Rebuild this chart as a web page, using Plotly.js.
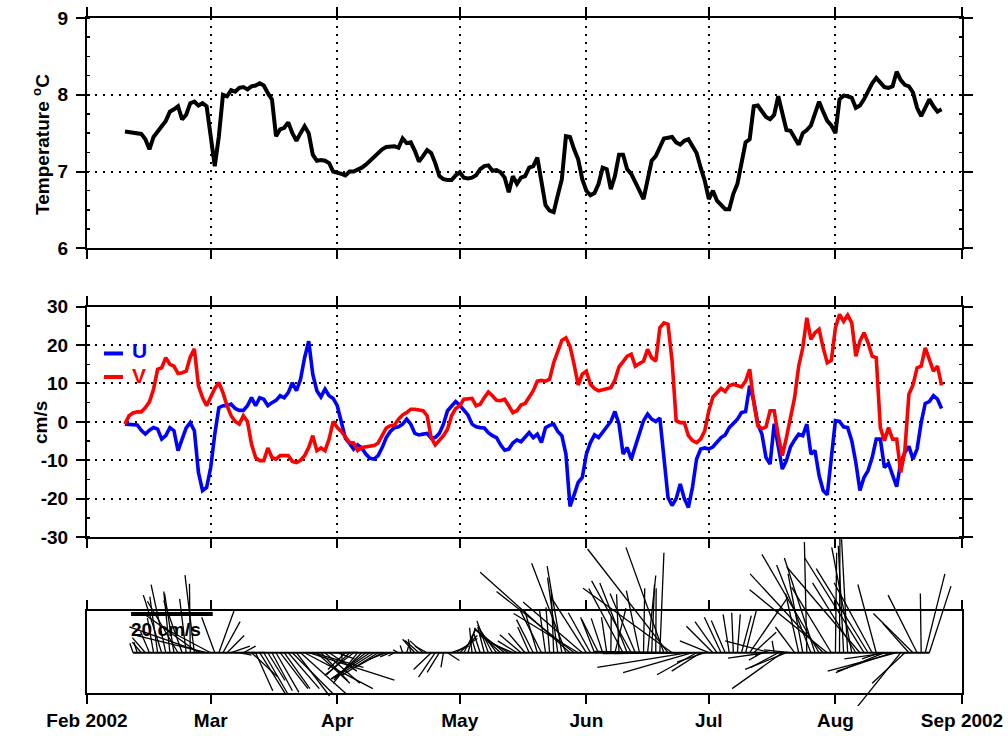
<!DOCTYPE html>
<html>
<head>
<meta charset="utf-8">
<script src="https://cdn.plot.ly/plotly-3.0.1.min.js"></script>
<style>html,body{margin:0;padding:0;background:#fff;}#chart{width:1008px;height:736px;}</style>
</head>
<body>
<div id="chart"></div>
<script>
// ---- data (daily samples, first sample 2002-02-08) ----
const firstDate = '2002-02-08';
const monthTicks = ['2002-01-29 16:55','2002-03-01','2002-04-01','2002-05-01','2002-06-01','2002-07-01','2002-08-01','2002-09-01'];
const monthLabels = ['Feb 2002','Mar','Apr','May','Jun','Jul','Aug','Sep 2002'];
const tempTicks = [6, 7, 8, 9];
const velTicks = [-30, -20, -10, 0, 10, 20, 30];

const temperature = [
7.52,7.51,7.50,7.50,7.49,7.42,7.29,7.45,7.53,7.59,
7.66,7.78,7.81,7.85,7.68,7.74,7.89,7.91,7.86,7.89,
7.85,7.42,7.07,7.46,8.00,7.98,8.06,8.04,8.09,8.10,
8.07,8.11,8.12,8.15,8.12,8.02,7.94,7.46,7.55,7.57,
7.64,7.50,7.40,7.50,7.59,7.50,7.22,7.14,7.15,7.14,
7.11,7.00,6.99,6.97,6.95,7.00,7.00,7.02,7.05,7.09,
7.14,7.18,7.24,7.29,7.32,7.33,7.33,7.31,7.43,7.37,
7.38,7.27,7.13,7.20,7.28,7.24,7.11,6.94,6.90,6.89,
6.89,6.95,6.99,6.92,6.91,6.92,6.95,7.03,7.07,7.08,
7.01,7.02,6.99,6.92,6.73,6.94,6.84,6.92,6.94,7.05,
7.07,7.18,6.90,6.56,6.49,6.47,6.69,6.90,7.46,7.45,
7.29,7.16,6.90,6.75,6.69,6.72,6.84,7.05,7.03,6.77,
6.94,7.22,7.22,7.03,6.97,6.87,6.75,6.64,6.90,7.14,
7.20,7.33,7.43,7.44,7.45,7.38,7.35,7.40,7.42,7.33,
7.24,7.05,6.88,6.64,6.75,6.62,6.56,6.51,6.51,6.71,
6.84,7.12,7.38,7.42,7.85,7.86,7.78,7.71,7.68,7.74,
7.98,7.74,7.54,7.53,7.44,7.35,7.50,7.54,7.60,7.76,
7.91,7.78,7.66,7.60,7.50,7.94,7.99,7.98,7.96,7.83,
7.86,7.94,8.06,8.15,8.22,8.16,8.10,8.09,8.11,8.30,
8.19,8.13,8.11,8.03,7.83,7.72,7.84,7.94,7.85,7.78,7.81];

const uVel = [
-0.6,-0.7,-0.8,-0.8,-2.2,-3.2,-2.2,-1.5,-1.9,-4.5,
-3.6,-1.5,-2.3,-7.5,-4.5,-1.6,-0.2,-2.3,-13.2,-17.9,
-17.1,-11.9,-3.2,3.7,4.2,4.2,4.6,3.5,3.0,3.0,
4.2,6.3,4.2,6.3,5.9,4.2,5.0,5.6,6.8,6.3,
7.6,10.2,8.1,11.1,16.7,21.0,12.4,8.1,6.5,8.5,
6.8,6.1,4.2,0.3,-4.3,-5.6,-7.1,-6.0,-6.8,-8.4,
-9.5,-9.7,-8.8,-6.7,-4.1,-2.5,-1.5,-1.3,-0.6,0.7,
-0.6,-3.0,-3.4,-3.2,-3.0,-4.3,-4.1,-3.0,-0.6,2.9,
4.2,5.3,4.3,3.0,1.8,-0.6,-1.3,-1.5,-1.6,-2.8,
-3.6,-4.1,-6.0,-7.4,-7.1,-5.5,-4.7,-5.2,-4.1,-2.8,
-4.1,-3.2,-5.4,-1.5,-0.9,-0.6,-2.5,-3.6,-8.4,-22.0,
-19.0,-15.8,-14.5,-8.4,-5.4,-3.4,-4.1,-2.8,-1.3,0.1,
2.7,-0.6,-8.4,-6.7,-9.7,-6.2,-3.2,0.3,2.0,0.7,
0.1,1.0,-9.3,-19.7,-21.8,-20.0,-16.2,-20.0,-22.3,-17.0,
-9.7,-7.1,-6.8,-7.1,-6.5,-5.4,-4.1,-3.4,-1.5,-0.4,
0.7,2.4,2.7,9.4,5.5,-0.6,-3.2,-9.3,-11.0,-0.5,
-6.7,-12.3,-10.1,-6.5,-4.7,-3.2,-3.6,-0.6,-8.4,-7.5,
-14.0,-17.9,-19.0,-9.7,0.3,0.1,-1.3,-1.5,-4.9,-10.6,
-17.9,-14.5,-12.7,-9.3,-4.5,-4.5,-11.9,-10.8,-13.6,-16.9,
-10.6,-8.0,-6.4,-9.7,-7.1,-0.2,4.8,5.3,6.8,5.9,3.5];

const vVel = [
-0.6,1.6,2.3,2.6,2.6,3.7,5.2,8.5,13.7,14.1,
16.7,15.0,14.5,12.6,12.8,13.2,16.9,19.0,9.4,6.3,
4.2,6.3,8.7,10.2,7.6,4.2,1.6,0.1,-0.6,1.6,
0.1,-5.8,-9.3,-10.1,-10.1,-6.8,-9.3,-9.7,-8.8,-8.8,
-8.8,-10.3,-10.6,-10.0,-8.8,-6.7,-3.6,-7.5,-6.8,-7.5,
-4.5,0.1,-1.5,-2.5,-4.1,-5.4,-5.5,-7.5,-6.7,-6.5,
-6.4,-6.2,-5.5,-3.6,-1.6,-1.0,-0.8,0.7,1.8,2.4,
3.3,3.3,3.0,2.9,1.6,-4.1,-6.0,-4.8,-3.6,-1.9,
1.6,3.5,4.2,5.9,6.1,6.1,4.2,4.6,6.3,7.8,
6.8,5.6,5.5,5.9,4.2,2.4,2.9,4.4,4.8,6.3,
8.1,10.6,10.8,10.6,11.1,15.4,18.4,21.2,21.9,19.7,
15.0,9.6,12.4,13.2,9.8,8.7,8.1,8.4,8.7,8.9,
10.9,14.3,15.7,17.1,17.6,14.5,15.2,15.8,18.9,16.7,
15.8,24.5,25.8,25.4,15.8,0.3,-0.2,-0.2,-3.6,-4.9,
-5.4,-4.5,-2.3,2.9,6.5,7.6,8.7,7.9,9.4,9.8,
9.4,9.1,10.6,13.7,5.0,-1.0,-1.8,-1.3,2.9,2.9,
-3.6,-8.8,-4.1,0.7,6.3,14.5,19.3,27.1,21.5,23.2,
24.1,19.3,15.4,16.0,24.5,28.0,26.2,27.8,25.8,17.1,
21.0,23.2,20.6,17.1,16.7,-1.5,-4.9,-1.5,-4.5,-4.5,
-13.2,-7.5,7.2,9.6,14.1,14.5,19.3,16.3,13.2,14.5,9.5];

// stick plot settings
const stickFirst = '2002-02-10';
const stickLast  = '2002-08-24';
const scaleBarValue = 20;          // cm/s
const scaleBarStart = '2002-02-09 12:00';
const scaleBarLevel = 9.48;        // vertical position of the scale bar (cm/s units)

// ---- build ----
const DAY = 86400000;
const t0 = Date.parse(firstDate + 'T00:00:00Z');
const times = temperature.map((_, i) => t0 + i * DAY);
const sFirst = Date.parse(stickFirst + 'T00:00:00Z');
const sLast = Date.parse(stickLast + 'T00:00:00Z');

const sx = [], sy = [];
times.forEach((t, i) => {
  if (t < sFirst || t > sLast) return;
  sx.push(t, t + uVel[i] * DAY, null);   // 1 cm/s == 1 day horizontally
  sy.push(0, vVel[i], null);
});
const sbStart = Date.parse(scaleBarStart.replace(' ', 'T') + ':00Z');

const FAM = 'Liberation Sans, Arial, Helvetica, sans-serif';
const FONT = {family: FAM, size: 19, color: '#000', weight: 700};
const rangeX = [monthTicks[0], '2002-09-01'];
const gridDash = '2px,6px';
const bold = a => a.map(s => '<b>' + s + '</b>');

function xAxis(anchor, labels) {
  return {
    anchor: anchor, domain: [0, 1], type: 'date', range: rangeX,
    tickmode: 'array', tickvals: monthTicks, ticktext: bold(monthLabels),
    showticklabels: labels, tickfont: FONT,
    ticks: 'outside', ticklen: 9, tickwidth: 2, tickcolor: '#000',
    showline: true, linewidth: 2, linecolor: '#000', mirror: 'allticks',
    showgrid: !labels, gridcolor: '#000', gridwidth: 2, griddash: gridDash,
    zeroline: false, fixedrange: true
  };
}
function yAxis(anchor, domain, range, tickvals, minorDt) {
  return {
    anchor: anchor, domain: domain, range: range,
    tickmode: 'array', tickvals: tickvals, ticktext: bold(tickvals.map(String)), tickfont: FONT,
    ticks: 'outside', ticklen: 9, tickwidth: 2, tickcolor: '#000', ticklabelstandoff: 4,
    showline: true, linewidth: 2, linecolor: '#000', mirror: 'allticks',
    showgrid: true, gridcolor: '#000', gridwidth: 2, griddash: gridDash,
    zeroline: false, fixedrange: true,
    minor: {dtick: minorDt, tick0: 0, ticks: 'inside', ticklen: 3, tickwidth: 1.5, tickcolor: '#000', showgrid: false}
  };
}

const traces = [
  {x: times, y: temperature, xaxis: 'x', yaxis: 'y', mode: 'lines', line: {color: '#000', width: 4}, name: 'Temperature'},
  {x: times, y: uVel, xaxis: 'x2', yaxis: 'y2', mode: 'lines', line: {color: '#0000ff', width: 3.6}, name: 'U'},
  {x: times, y: vVel, xaxis: 'x2', yaxis: 'y2', mode: 'lines', line: {color: '#ff0000', width: 3.6}, name: 'V'},
  {x: [sFirst, sLast], y: [0, 0], xaxis: 'x3', yaxis: 'y3', mode: 'lines', line: {color: '#000', width: 2}, name: 'baseline'},
  {x: [sbStart, sbStart + scaleBarValue * DAY], y: [scaleBarLevel, scaleBarLevel], xaxis: 'x3', yaxis: 'y3', mode: 'lines', line: {color: '#000', width: 4}, name: 'scale'},
  {x: sx, y: sy, xaxis: 'x4', yaxis: 'y4', mode: 'lines', line: {color: '#000', width: 1.3}, connectgaps: false, name: 'sticks'}
];

const layout = {
  width: 1008, height: 736,
  margin: {l: 87, r: 46, t: 18, b: 30},
  paper_bgcolor: '#fff', plot_bgcolor: 'rgba(0,0,0,0)',
  showlegend: false,
  font: FONT,
  xaxis: xAxis('y', false),
  yaxis: yAxis('x', [0.6653, 1], [6, 9], tempTicks, 0.25),
  xaxis2: xAxis('y2', false),
  yaxis2: yAxis('x2', [0.24564, 0.58038], [-30, 30], velTicks, 5),
  xaxis3: xAxis('y3', true),
  yaxis3: {anchor: 'x3', domain: [0.018895, 0.138081], range: [-9.87, 10.21], showline: true, linewidth: 2, linecolor: '#000', mirror: true,
           ticks: '', showticklabels: false, showgrid: false, zeroline: false, fixedrange: true},
  xaxis4: {anchor: 'y4', domain: [0, 1], type: 'date', range: rangeX, visible: false, fixedrange: true},
  yaxis4: {anchor: 'x4', domain: [0, 0.24855], range: [-13.05, 28.83], visible: false, fixedrange: true},
  annotations: [
    {text: '<b>Temperature <sup>o</sup>C</b>', xref: 'paper', yref: 'paper', x: -0.0526, y: 0.8169, textangle: -90, showarrow: false, font: FONT, xanchor: 'center', yanchor: 'middle'},
    {text: '<b>cm/s</b>', xref: 'paper', yref: 'paper', x: -0.0526, y: 0.4128, textangle: -90, showarrow: false, font: FONT, xanchor: 'center', yanchor: 'middle'},
    {text: '<b>U</b>', xref: 'paper', yref: 'paper', x: 0.0491, y: 0.5174, showarrow: false, xanchor: 'left', yanchor: 'middle', font: {family: FAM, size: 21, weight: 700, color: '#0000ff'}},
    {text: '<b>V</b>', xref: 'paper', yref: 'paper', x: 0.0491, y: 0.4797, showarrow: false, xanchor: 'left', yanchor: 'middle', font: {family: FAM, size: 21, weight: 700, color: '#ff0000'}},
    {text: '<b>20 cm/s</b>', xref: 'paper', yref: 'paper', x: 0.048, y: 0.1105, showarrow: false, xanchor: 'left', yanchor: 'middle', font: {family: FAM, size: 19, weight: 700, color: '#000'}}
  ],
  shapes: [
    {type: 'line', xref: 'paper', yref: 'paper', x0: 0.0194, x1: 0.0411, y0: 0.5124, y1: 0.5124, line: {color: '#0000ff', width: 4}},
    {type: 'line', xref: 'paper', yref: 'paper', x0: 0.0194, x1: 0.0411, y0: 0.4782, y1: 0.4782, line: {color: '#ff0000', width: 4}}
  ]
};

Plotly.newPlot('chart', traces, layout, {displayModeBar: false, staticPlot: true});
</script>
</body>
</html>
